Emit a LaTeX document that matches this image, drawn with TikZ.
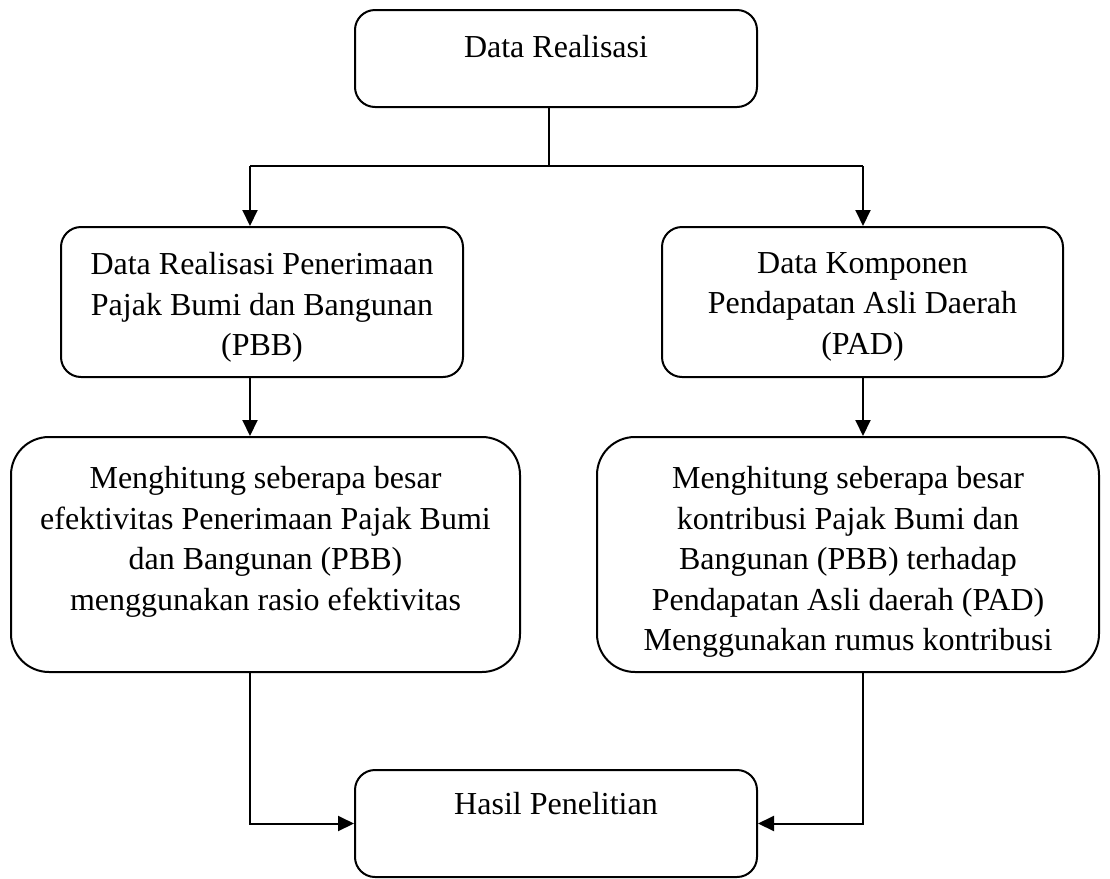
\documentclass[tikz,border=0pt]{standalone}
\usepackage{fontspec}
\setmainfont{Liberation Serif}
\usepackage{tikz}
\usetikzlibrary{arrows.meta,positioning,calc}
\tikzset{
  kotak/.style={rectangle, rounded corners=#1, draw=black, line width=1pt, inner sep=0pt},
  teks/.style={align=center, inner sep=0pt, font=\fontsize{16}{20.25}\selectfont},
  garis/.style={line width=1pt, draw=black},
  arr/.style={-{Triangle[length=8pt, width=7.5pt]}, line width=1pt, draw=black},
}

\begin{document}
\begin{tikzpicture}[x=0.5pt, y=-0.5pt]
\useasboundingbox (0,0) rectangle (1110,879);
% kotak
\node[kotak=10pt, minimum width=201pt, minimum height=48.5pt] (dr) at (556,58.5) {};
\node[kotak=10pt, minimum width=201pt, minimum height=75pt] (b2l) at (262,302) {};
\node[kotak=10pt, minimum width=200.5pt, minimum height=75pt] (b2r) at (862.5,302) {};
\node[kotak=19pt, minimum width=254.5pt, minimum height=117.5pt] (b3l) at (265.5,554.5) {};
\node[kotak=19pt, minimum width=251pt, minimum height=117.5pt] (b3r) at (848,554.5) {};
\node[kotak=10pt, minimum width=201pt, minimum height=53.5pt] (hasil) at (556,823.5) {};
% teks
\node[teks, below=13pt of dr.north] (tdr) {Data Realisasi};
\node[teks, below=13pt of b2l.north] (tb2l) {Data Realisasi Penerimaan\\Pajak Bumi dan Bangunan\\(PBB)};
\node[teks, below=13pt of b2r.north] (tb2r) {Data Komponen\\Pendapatan Asli Daerah\\(PAD)};
\node[teks, below=15pt of b3l.north] (tb3l) {Menghitung seberapa besar\\efektivitas Penerimaan Pajak Bumi\\dan Bangunan (PBB)\\menggunakan rasio efektivitas};
\node[teks, below=15pt of b3r.north] (tb3r) {Menghitung seberapa besar\\kontribusi Pajak Bumi dan\\Bangunan (PBB) terhadap\\Pendapatan Asli daerah (PAD)\\Menggunakan rumus kontribusi};
\node[teks, below=11.5pt of hasil.north] (thasil) {Hasil Penelitian};
% garis
\coordinate (jc) at (549,166);
\coordinate (jl) at (250,166);
\coordinate (jr) at (863,166);
\draw[garis] (jc |- dr.south) -- (jc);
\draw[garis] (jl) -- (jr);
\draw[arr] (jl) -- (jl |- b2l.north);
\draw[arr] (jr) -- (jr |- b2r.north);
\draw[arr] (jl |- b2l.south) -- (jl |- b3l.north);
\draw[arr] (jr |- b2r.south) -- (jr |- b3r.north);
\draw[arr] (jl |- b3l.south) |- (hasil.west);
\draw[arr] (jr |- b3r.south) |- (hasil.east);
\end{tikzpicture}
\end{document}
